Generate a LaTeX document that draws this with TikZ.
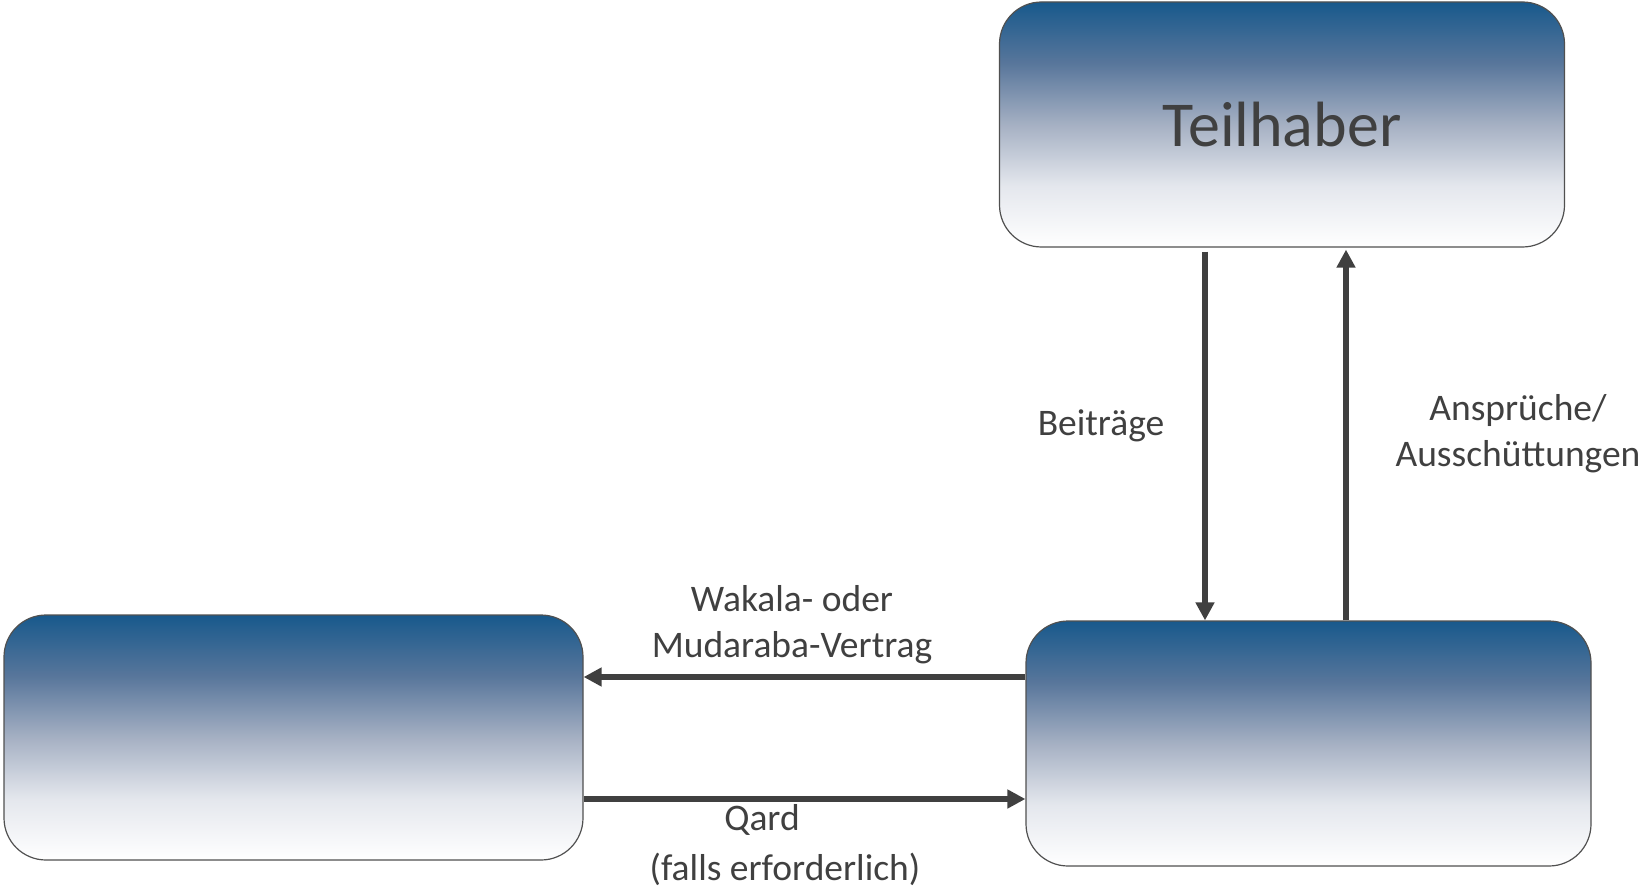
\documentclass[tikz,border=0pt]{standalone}
\usepackage{fontspec}
\setmainfont{Carlito}
\usetikzlibrary{arrows.meta}
\definecolor{g0}{RGB}{24,89,140}
\definecolor{g1}{RGB}{88,118,155}
\definecolor{g2}{RGB}{165,176,195}
\definecolor{g3}{RGB}{228,231,237}
\definecolor{txt}{RGB}{64,64,64}
\definecolor{edge}{RGB}{80,80,80}
\pgfdeclareverticalshading{boxshade}{100bp}{color(0bp)=(white); color(25bp)=(white); color(37.5bp)=(g3); color(50bp)=(g2); color(62.5bp)=(g1); color(75bp)=(g0); color(100bp)=(g0)}
\tikzset{
  box/.style={draw=edge, line width=1.2pt, rounded corners=42pt, shading=boxshade,
    minimum width=#1, minimum height=245pt, inner sep=0pt, text=txt,
    font=\fontsize{64}{76}\selectfont},
  arr/.style={draw=txt, line width=6pt, -{Triangle[length=18pt,width=18pt]}},
  lbl/.style={text=txt, align=center, font=\fontsize{37.5}{46}\selectfont, inner sep=0pt}
}
\begin{document}
\begin{tikzpicture}[x=1pt,y=-1pt]
\useasboundingbox (0,0) rectangle (1641,890);
\node[box=565pt] (teil) at (1282,124.5) {Teilhaber};
\node[box=579pt] (lb) at (293.5,737.5) {};
\node[box=565pt] (rb) at (1308.5,743.5) {};
\coordinate (bx) at (1205,0);
\coordinate (ax) at (1346,0);
\coordinate (wy) at (0,677);
\coordinate (qy) at (0,799);
\draw[arr] ([yshift=-4pt]bx |- teil.south) -- (bx |- rb.north);
\draw[arr] (ax |- rb.north) -- ([yshift=-2pt]ax |- teil.south);
\draw[arr] (rb.west |- wy) -- (lb.east |- wy);
\draw[arr] (lb.east |- qy) -- (rb.west |- qy);
\node[lbl] (lbei) at (1101,426) {Beiträge};
\node[lbl] (lans) at (1518,434) {Ansprüche/\\Ausschüttungen};
\node[lbl] (lwak) at (792,625) {Wakala- oder\\Mudaraba-Vertrag};
\node[lbl] (lqard) at (762,820) {Qard};
\node[lbl] (lfalls) at (785,869) {(falls erforderlich)};
\end{tikzpicture}
\end{document}
